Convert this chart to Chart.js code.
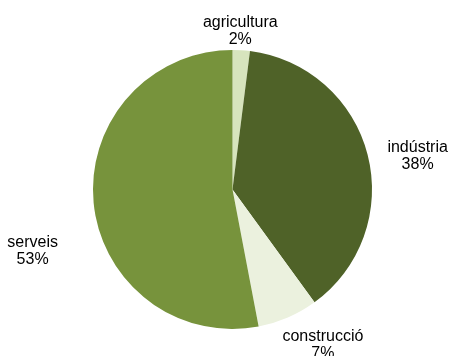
<!DOCTYPE html>
<html>
<head>
<meta charset="utf-8">
<script src="https://cdn.jsdelivr.net/npm/chart.js@4"></script>
<style>
  html, body { margin: 0; padding: 0; background: #ffffff; }
  #wrap { width: 452px; height: 356px; }
</style>
</head>
<body>
<div id="wrap"><canvas id="pieChart" width="452" height="356"></canvas></div>
<script>
const sectors = ["agricultura", "indústria", "construcció", "serveis"];
const shares = [2, 38, 7, 53];
const sectorColors = ["#d7e4bd", "#4f6228", "#ebf1de", "#77933c"];

// labels sit outside the pie, nudged from the slice's outer edge (like excel's best fit)
const outsideLabels = {
  id: "outsideLabels",
  afterDraw(chart, args, options) {
    const { ctx } = chart;
    const meta = chart.getDatasetMeta(0);
    ctx.save();
    ctx.font = options.font;
    ctx.fillStyle = options.color;
    ctx.textAlign = "center";
    ctx.textBaseline = "middle";
    meta.data.forEach((arc, i) => {
      const mid = (arc.startAngle + arc.endAngle) / 2;
      const ex = arc.x + Math.cos(mid) * arc.outerRadius;
      const ey = arc.y + Math.sin(mid) * arc.outerRadius;
      const [ox, oy] = options.nudge[i];
      const cx = ex + ox;
      const cy = ey + oy;
      const lh = options.lineHeight;
      ctx.fillText(chart.data.labels[i], cx, cy - lh / 2);
      ctx.fillText(chart.data.datasets[0].data[i] + "%", cx, cy + lh / 2);
    });
    ctx.restore();
  },
};

new Chart(document.getElementById("pieChart").getContext("2d"), {
  type: "pie",
  plugins: [outsideLabels],
  data: {
    labels: sectors,
    datasets: [
      {
        data: shares,
        backgroundColor: sectorColors,
        borderWidth: 0,
      },
    ],
  },
  options: {
    animation: false,
    responsive: false,
    layout: {
      padding: { top: 50, bottom: 27, left: 93, right: 80 },
    },
    plugins: {
      legend: { display: false },
      tooltip: { enabled: false },
      outsideLabels: {
        font: "16px 'Liberation Sans', Arial, sans-serif",
        color: "#000000",
        lineHeight: 17,
        nudge: [[-1, -19], [50, 1], [35, 28], [-61, 48]],
      },
    },
  },
});
</script>
</body>
</html>
